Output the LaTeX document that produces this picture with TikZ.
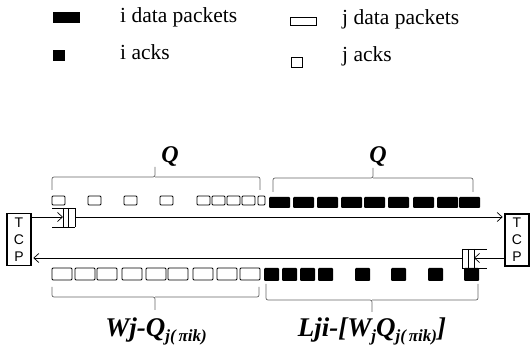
\documentclass[tikz,border=0pt]{standalone}
\usepackage{fontspec}
\setmainfont{Liberation Serif}
\setsansfont{Liberation Sans}
\usetikzlibrary{arrows.meta}
\newcommand{\sbs}[1]{\raisebox{-5pt}{\fontsize{17}{17}\selectfont #1}}
\begin{document}
\begin{tikzpicture}[x=1pt,y=-1pt,
  legtext/.style={anchor=base west, inner sep=0pt, font=\fontsize{21.5}{24}\selectfont},
  qlbl/.style={inner sep=0pt, font=\fontsize{24}{26}\selectfont\bfseries\itshape},
  lbl/.style={inner sep=0pt, anchor=base, font=\fontsize{27}{29}\selectfont\bfseries\itshape},
  tcpbox/.style={draw, line width=1.6pt, minimum width=24pt, minimum height=52pt, inner sep=0pt, align=center, font=\sffamily\fontsize{14}{17}\selectfont},
  arr/.style={line width=0.7pt, -{Straight Barb[length=5pt,width=9pt]}},
  jpk/.style={draw, fill=white, line width=0.8pt, rounded corners=1pt},
  ipk/.style={fill=black, rounded corners=1pt},
  brc/.style={draw=black!60, line width=0.7pt, rounded corners=2pt},
  qbox/.style={line width=0.7pt}
]
\useasboundingbox (0,0) rectangle (530,355);
% legend
\fill (53,12) rectangle (80,23);
\node[legtext] (l1) at (120,23) {i data packets};
\draw[line width=0.9pt] (290,17) rectangle (316,25);
\node[legtext] (l2) at (342,25) {j data packets};
\fill (53,50) rectangle (65,61);
\node[legtext] (l3) at (120,60) {i acks};
\draw[line width=0.9pt] (291,57) rectangle (302,67);
\node[legtext] (l4) at (342,62) {j acks};
% Q labels
\node[qlbl] (q1) at (170,157) {Q};
\node[qlbl] (q2) at (378,157) {Q};
% braces
\draw[brc] (52,190) |- (155,177) -- (155,167);
\draw[brc] (155,177) -| (260,190);
\draw[brc] (273,192) |- (373,178) -- (373,168);
\draw[brc] (373,178) -| (473,192);
\draw[brc] (52,287) |- (155,297) -- (155,310);
\draw[brc] (155,297) -| (259,287);
\draw[brc] (266,284) |- (372,300) -- (372,312);
\draw[brc] (372,300) -| (478,284);
% TCP boxes
\node[tcpbox] (tcpL) at (19,239.5) {T\\C\\P};
\node[tcpbox] (tcpR) at (517,240) {T\\C\\P};
% queues
\draw[qbox] (52,208) -- (75,208) (52,227) -- (75,227) (63,208) -- (63,227) (68,208) -- (68,227) (75,208) -- (75,227);
\coordinate (qLin) at (63,217);
\coordinate (qLout) at (75,217);
\draw[qbox] (462,249) -- (487,249) (462,268) -- (487,268) (462,249) -- (462,268) (468,249) -- (468,268) (474,249) -- (474,268);
\coordinate (qRin) at (474,258);
\coordinate (qRout) at (462,258);
% links
\draw[arr] (qLin -| tcpL.east) -- (qLin);
\draw[arr, shorten >=1.5pt] (qLout) -- (qLout -| tcpR.west);
\draw[arr] (qRin -| tcpR.west) -- (qRin);
\draw[arr, shorten >=1.5pt] (qRout) -- (qRout -| tcpL.east);
% upper row packets
\foreach \x in {52,88,124,160,197,212,227,242} \draw[jpk] (\x,196) rectangle ++(13,9);
\draw[jpk] (258,196) rectangle ++(7,9);
\foreach \x in {269,293,317,341,364,388,413,437,459} \fill[ipk] (\x,197) rectangle ++(21,11);
% lower row packets
\foreach \x in {52,75,97,122,146,168,193,217,240} \draw[jpk] (\x,268) rectangle ++(20,12);
\foreach \x in {264,282,300,318,355,391,428,464} \fill[ipk] (\x,268) rectangle ++(15,13);
% bottom labels
\node[lbl] (b1) at (156,337) {Wj-Q\sbs{j(\,πik)}};
\node[lbl] (b2) at (372,337) {Lji-[W\sbs{j}Q\sbs{j(\,πik)}]};
\end{tikzpicture}
\end{document}
